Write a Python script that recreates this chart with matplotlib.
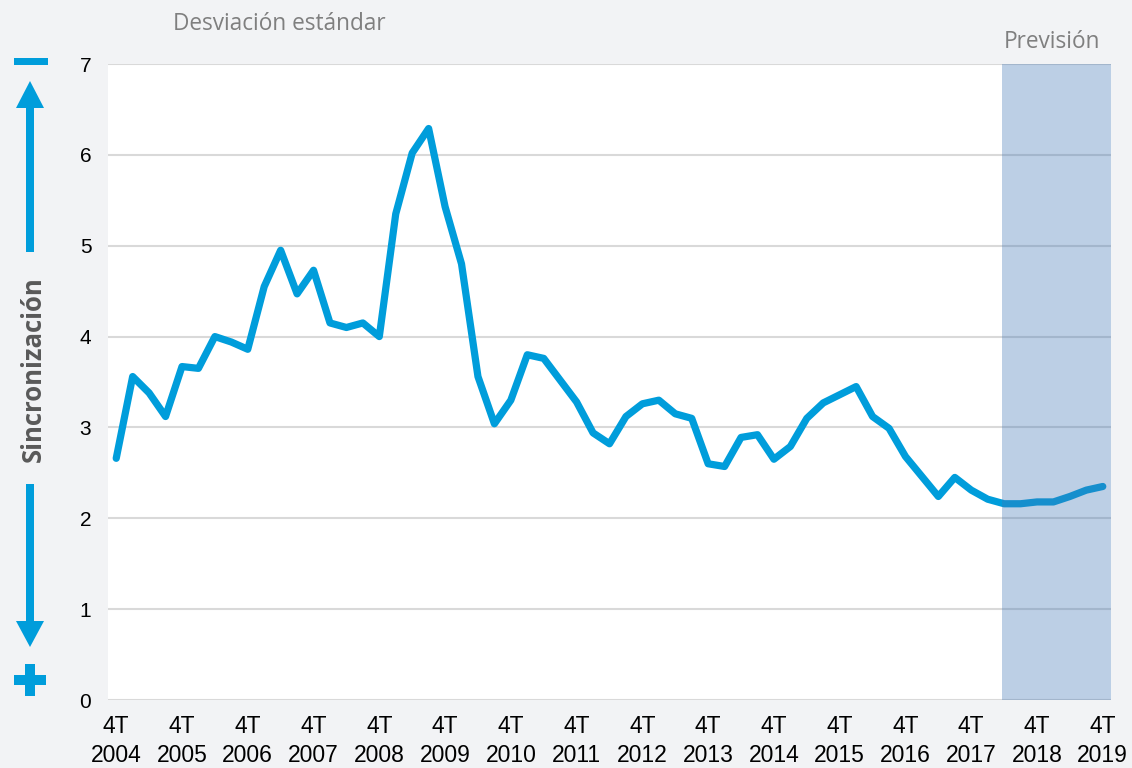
import matplotlib
matplotlib.use("Agg")
import matplotlib.pyplot as plt
from matplotlib.patches import Polygon, Rectangle
import numpy as np

# ---- data ----
years = list(range(2004, 2020))
quarters = ["1T", "2T", "3T", "4T"]
periods = ["4T 2004"] + [f"{q} {y}" for y in range(2005, 2020) for q in quarters]
values = [2.66, 3.56, 3.38, 3.12, 3.67, 3.65, 4.00, 3.94, 3.86, 4.55,
          4.95, 4.47, 4.73, 4.15, 4.10, 4.15, 4.00, 5.35, 6.02, 6.29,
          5.43, 4.80, 3.56, 3.04, 3.30, 3.80, 3.76, 3.52, 3.28, 2.94,
          2.82, 3.12, 3.26, 3.30, 3.15, 3.10, 2.60, 2.57, 2.89, 2.92,
          2.65, 2.79, 3.10, 3.27, 3.36, 3.45, 3.12, 2.99, 2.68, 2.46,
          2.24, 2.45, 2.31, 2.21, 2.16, 2.16, 2.18, 2.18, 2.24, 2.31,
          2.35]
forecast_start = "2T 2018"
tick_periods = [f"4T {y}" for y in years]
tick_labels = [f"4T\n{y}" for y in years]
y_ticks = [0, 1, 2, 3, 4, 5, 6, 7]
title = "Desviación estándar"
forecast_label = "Previsión"
side_label = "Sincronización"

# ---- style ----
BG = "#f2f3f5"
LINE = "#009ddb"
GRID = "#d9d9d9"
W, H = 1132, 768

fig = plt.figure(figsize=(W / 100, H / 100), dpi=100, facecolor=BG)
ax = fig.add_axes([108 / W, 1 - 700 / H, 1003 / W, 636 / H])
ax.set_facecolor("white")

x = np.arange(len(periods))
ax.plot(x, values, color=LINE, lw=5.2, solid_joinstyle="round",
        solid_capstyle="round", zorder=3)

fi = periods.index(forecast_start)
ax.axvspan(fi - 0.12, len(periods) - 0.5, facecolor=(64/255, 118/255, 181/255),
           alpha=0.35, lw=0, zorder=4)

ax.set_xlim(-0.5, len(periods) - 0.5)
ax.set_ylim(0, 7)
ax.set_yticks(y_ticks)
ax.set_yticklabels([str(v) for v in y_ticks])
ax.set_xticks([periods.index(p) for p in tick_periods])
ax.set_xticklabels(tick_labels, linespacing=1.3)
ax.grid(axis="y", color=GRID, lw=1.5, zorder=1)
ax.set_axisbelow(True)
for s in ax.spines.values():
    s.set_visible(False)
ax.tick_params(axis="both", length=0, labelcolor="black")
ax.tick_params(axis="y", pad=12, labelsize=15)
ax.tick_params(axis="x", pad=11, labelsize=16.5)
for lab in ax.get_xticklabels() + ax.get_yticklabels():
    lab.set_fontfamily("Liberation Sans")

fig.text(173 / W, 1 - 24 / H, title, fontfamily="Open Sans", fontsize=16.3,
         color="#7f7f7f", ha="left", va="center")
fig.text(1052 / W, 1 - 42 / H, forecast_label, fontfamily="Open Sans",
         fontsize=16.3, color="#7f7f7f", ha="center", va="center")

# side decorations in pixel coordinates
ov = fig.add_axes([0, 0, 1, 1], facecolor="none")
ov.set_xlim(0, W)
ov.set_ylim(H, 0)
ov.axis("off")
ov.text(33, 369, side_label, rotation=90, fontfamily="Open Sans",
        fontweight="bold", fontsize=18.5, color="#595959",
        ha="center", va="center")
# minus
ov.add_patch(Rectangle((14, 58), 34, 7, color=LINE, lw=0))
# up arrow
ov.add_patch(Rectangle((26, 106), 8, 146, color=LINE, lw=0))
ov.add_patch(Polygon([(16, 108), (44, 108), (30, 81)], closed=True, color=LINE, lw=0))
# down arrow
ov.add_patch(Rectangle((26, 484), 8, 140, color=LINE, lw=0))
ov.add_patch(Polygon([(16, 621), (44, 621), (30, 647)], closed=True, color=LINE, lw=0))
# plus
ov.add_patch(Rectangle((14, 675), 32, 10, color=LINE, lw=0))
ov.add_patch(Rectangle((25, 664), 10, 32, color=LINE, lw=0))

fig.savefig("out.png", dpi=100, facecolor=BG)
